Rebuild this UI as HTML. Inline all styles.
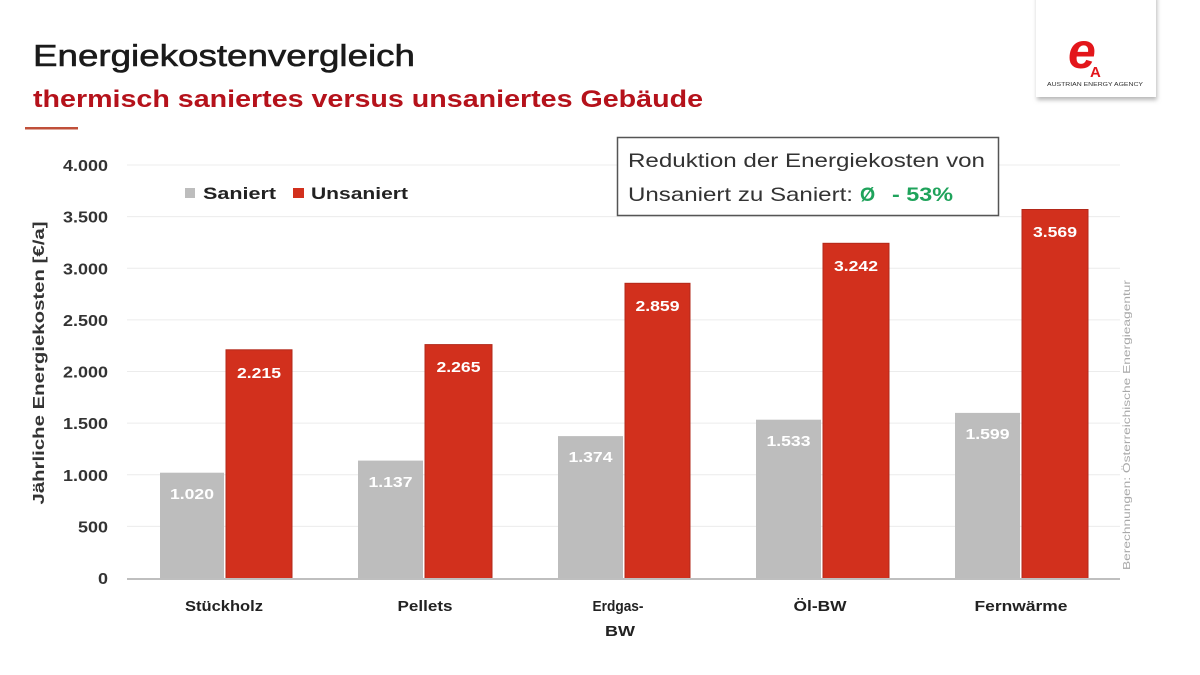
<!DOCTYPE html>
<html>
<head>
<meta charset="utf-8">
<style>
  html,body{margin:0;padding:0;background:#fff;}
  svg{display:block;}
  text{font-family:"Liberation Sans", sans-serif;}
</style>
</head>
<body>
<svg width="1200" height="675" viewBox="0 0 1200 675" xmlns="http://www.w3.org/2000/svg">
  <defs>
    <filter id="sh" x="-20%" y="-20%" width="140%" height="140%">
      <feDropShadow dx="1" dy="3" stdDeviation="2" flood-color="#888" flood-opacity="0.6"/>
    </filter>
  </defs>
  <rect width="1200" height="675" fill="#fff"/>

  <!-- Title -->
  <text x="33" y="66" font-size="31" fill="#1a1a1a" stroke="#1a1a1a" stroke-width="0.6" textLength="382" lengthAdjust="spacingAndGlyphs">Energiekostenvergleich</text>
  <text x="33" y="107" font-size="24" font-weight="bold" fill="#b5121b" textLength="670" lengthAdjust="spacingAndGlyphs">thermisch saniertes versus unsaniertes Gebäude</text>
  <rect x="25" y="127" width="53" height="2.5" fill="#c0503a"/>

  <!-- Logo -->
  <rect x="1036" y="-6" width="120" height="103" fill="#fff" filter="url(#sh)"/>
  <text x="1068" y="68" font-family="Liberation Serif, serif" font-style="italic" font-weight="bold" font-size="50" fill="#e3161b">e</text>
  <text x="1090" y="77" font-weight="bold" font-size="15" fill="#e3161b">A</text>
  <text x="1047" y="86" font-size="5" fill="#333" textLength="96" lengthAdjust="spacingAndGlyphs">AUSTRIAN ENERGY AGENCY</text>

  <!-- Gridlines -->
  <g stroke="#ececec" stroke-width="1">
    <line x1="127" y1="526.4" x2="1120" y2="526.4"/>
    <line x1="127" y1="474.8" x2="1120" y2="474.8"/>
    <line x1="127" y1="423.1" x2="1120" y2="423.1"/>
    <line x1="127" y1="371.5" x2="1120" y2="371.5"/>
    <line x1="127" y1="319.9" x2="1120" y2="319.9"/>
    <line x1="127" y1="268.3" x2="1120" y2="268.3"/>
    <line x1="127" y1="216.6" x2="1120" y2="216.6"/>
    <line x1="127" y1="165" x2="1120" y2="165"/>
  </g>

  <!-- Y tick labels -->
  <g font-size="16" font-weight="bold" fill="#333" text-anchor="end">
    <text x="108" y="584" textLength="10" lengthAdjust="spacingAndGlyphs">0</text>
    <text x="108" y="532.4" textLength="30" lengthAdjust="spacingAndGlyphs">500</text>
    <text x="108" y="480.8" textLength="45" lengthAdjust="spacingAndGlyphs">1.000</text>
    <text x="108" y="429.1" textLength="45" lengthAdjust="spacingAndGlyphs">1.500</text>
    <text x="108" y="377.5" textLength="45" lengthAdjust="spacingAndGlyphs">2.000</text>
    <text x="108" y="325.9" textLength="45" lengthAdjust="spacingAndGlyphs">2.500</text>
    <text x="108" y="274.3" textLength="45" lengthAdjust="spacingAndGlyphs">3.000</text>
    <text x="108" y="222.6" textLength="45" lengthAdjust="spacingAndGlyphs">3.500</text>
    <text x="108" y="171" textLength="45" lengthAdjust="spacingAndGlyphs">4.000</text>
  </g>

  <!-- Y axis title -->
  <text transform="translate(44,363) rotate(-90)" text-anchor="middle" font-size="16" font-weight="bold" fill="#333" textLength="283" lengthAdjust="spacingAndGlyphs">Jährliche Energiekosten [€/a]</text>

  <!-- Bars -->
  <g>
    <rect x="160" y="472.7" width="64" height="105.8" fill="#bdbdbd"/>
    <rect x="226" y="349.8" width="66" height="228.7" fill="#d2301d" stroke="#b3281a" stroke-width="1"/>
    <rect x="358" y="460.6" width="65" height="117.9" fill="#bdbdbd"/>
    <rect x="425" y="344.6" width="67" height="233.9" fill="#d2301d" stroke="#b3281a" stroke-width="1"/>
    <rect x="558" y="436.1" width="65" height="142.4" fill="#bdbdbd"/>
    <rect x="625" y="283.3" width="65" height="295.2" fill="#d2301d" stroke="#b3281a" stroke-width="1"/>
    <rect x="756" y="419.7" width="65" height="158.8" fill="#bdbdbd"/>
    <rect x="823" y="243.3" width="66" height="335.2" fill="#d2301d" stroke="#b3281a" stroke-width="1"/>
    <rect x="955" y="412.9" width="65" height="165.6" fill="#bdbdbd"/>
    <rect x="1022" y="209.5" width="66" height="369" fill="#d2301d" stroke="#b3281a" stroke-width="1"/>
  </g>

  <!-- Axis line -->
  <line x1="127" y1="579" x2="1120" y2="579" stroke="#bfbfbf" stroke-width="2"/>

  <!-- Value labels -->
  <g font-size="15" font-weight="bold" fill="#fff" text-anchor="middle">
    <text x="192" y="499" textLength="44" lengthAdjust="spacingAndGlyphs">1.020</text>
    <text x="259" y="378" textLength="44" lengthAdjust="spacingAndGlyphs">2.215</text>
    <text x="390.5" y="487" textLength="44" lengthAdjust="spacingAndGlyphs">1.137</text>
    <text x="458.5" y="372" textLength="44" lengthAdjust="spacingAndGlyphs">2.265</text>
    <text x="590.5" y="462" textLength="44" lengthAdjust="spacingAndGlyphs">1.374</text>
    <text x="657.5" y="311" textLength="44" lengthAdjust="spacingAndGlyphs">2.859</text>
    <text x="788.5" y="446" textLength="44" lengthAdjust="spacingAndGlyphs">1.533</text>
    <text x="856" y="271" textLength="44" lengthAdjust="spacingAndGlyphs">3.242</text>
    <text x="987.5" y="439" textLength="44" lengthAdjust="spacingAndGlyphs">1.599</text>
    <text x="1055" y="237" textLength="44" lengthAdjust="spacingAndGlyphs">3.569</text>
  </g>

  <!-- Category labels -->
  <g font-size="15" font-weight="bold" fill="#222" text-anchor="middle">
    <text x="224" y="611" textLength="78" lengthAdjust="spacingAndGlyphs">Stückholz</text>
    <text x="425" y="611" textLength="55" lengthAdjust="spacingAndGlyphs">Pellets</text>
    <text x="618" y="611" textLength="51" lengthAdjust="spacingAndGlyphs">Erdgas-</text>
    <text x="620" y="636" textLength="30" lengthAdjust="spacingAndGlyphs">BW</text>
    <text x="820" y="611" textLength="53" lengthAdjust="spacingAndGlyphs">Öl-BW</text>
    <text x="1021" y="611" textLength="93" lengthAdjust="spacingAndGlyphs">Fernwärme</text>
  </g>

  <!-- Legend -->
  <rect x="185" y="188" width="10" height="10" fill="#bdbdbd"/>
  <text x="203" y="199" font-size="17" font-weight="bold" fill="#222" textLength="73" lengthAdjust="spacingAndGlyphs">Saniert</text>
  <rect x="293" y="188" width="11" height="10" fill="#d2301d"/>
  <text x="311" y="199" font-size="17" font-weight="bold" fill="#222" textLength="97" lengthAdjust="spacingAndGlyphs">Unsaniert</text>

  <!-- Info box -->
  <rect x="617.5" y="137.5" width="381" height="78" fill="#fff" stroke="#555" stroke-width="1.5"/>
  <text x="628" y="167" font-size="19.5" fill="#333" textLength="357" lengthAdjust="spacingAndGlyphs">Reduktion der Energiekosten von</text>
  <text x="628" y="201" font-size="19.5" fill="#333" textLength="225" lengthAdjust="spacingAndGlyphs">Unsaniert zu Saniert:</text>
  <text x="860" y="201" font-size="19.5" font-weight="bold" fill="#1fa35b">Ø</text>
  <text x="892" y="201" font-size="19.5" font-weight="bold" fill="#1fa35b" textLength="61" lengthAdjust="spacingAndGlyphs">- 53%</text>

  <!-- Source note -->
  <text transform="translate(1130,425) rotate(-90)" text-anchor="middle" font-size="10.5" fill="#a8a8a8" textLength="290" lengthAdjust="spacingAndGlyphs">Berechnungen: Österreichische Energieagentur</text>
</svg>
</body>
</html>
